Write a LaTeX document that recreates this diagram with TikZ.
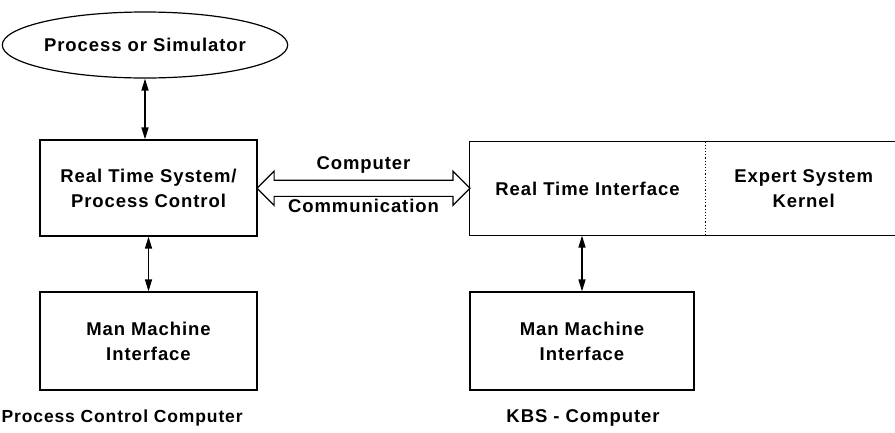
\documentclass[tikz,border=0pt]{standalone}
\usepackage{fontspec}
\setmainfont{Liberation Sans}[LetterSpace=5]
\usetikzlibrary{arrows.meta,shapes.geometric,shapes.arrows,positioning,calc}

\begin{document}
\begin{tikzpicture}[x=1pt,y=-1pt,>={Triangle[length=12pt,width=7pt]},
                    line width=1.2pt,font=\fontsize{18.5}{25}\selectfont\bfseries,
                    main node/.style={rectangle,draw,align=center,inner sep=0pt},
                    link/.style={<->,line width=1.5pt}]
\useasboundingbox (0,0) rectangle (895,432);

\node[ellipse,draw,minimum width=266pt,minimum height=66pt,inner sep=0pt] (sim) at (145,45) {Process or Simulator};
\node[main node,minimum width=217pt,minimum height=96pt] (rts) at (148.5,188) {Real Time System/\\Process Control};
\node[main node,minimum width=217pt,minimum height=98pt] (mmi1) at (148.5,341) {Man Machine\\Interface};

\node[align=center,minimum width=235pt,minimum height=93pt] (rti) at (587.5,188.5) {Real Time Interface};
\node[align=center,minimum width=195pt,minimum height=93pt,right=0pt of rti] (esk) {Expert System\\Kernel};
\node[main node,minimum width=224pt,minimum height=98pt] (mmi2) at (582,341) {Man Machine\\Interface};

% outer frame of the KBS box, dotted split
\draw (esk.north east) -- (rti.north west) -- (rti.south west) -- (esk.south east);
\draw[dotted] (rti.north east) -- (rti.south east);

% computer communication
\node[double arrow,draw,minimum height=213pt,inner sep=7.5pt,double arrow head extend=9pt] (com)
  at ($(rts.east)!0.5!(rti.west)$) {};
\node[above=2pt of com.north] (comtop) {Computer};
\node[below=-2pt of com.south] (combot) {Communication};

\path[link]
  (sim.south) edge (sim.south |- rts.north)
  (rts.south) edge (mmi1.north)
  (mmi2.north |- rti.south) edge (mmi2.north);

\node[anchor=west,inner sep=0pt,font=\fontsize{17.5}{20}\selectfont\bfseries] (cap1) at (1,418) {Process Control Computer};
\node (cap2) at (583,418) {KBS - Computer};

\end{tikzpicture}
\end{document}
